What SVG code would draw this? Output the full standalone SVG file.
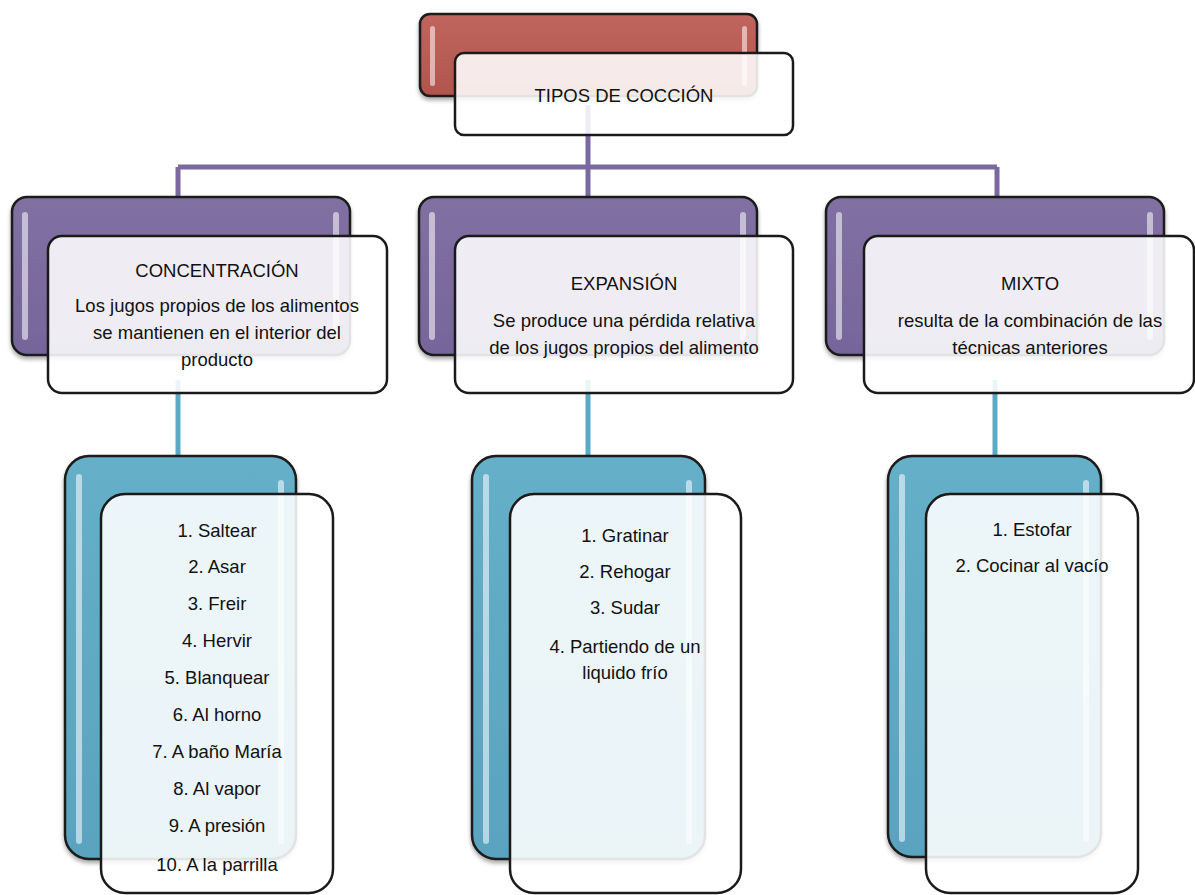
<svg xmlns="http://www.w3.org/2000/svg" width="1195" height="895" viewBox="0 0 1195 895">
<defs>
<linearGradient id="gRed" x1="0" y1="0" x2="0" y2="1"><stop offset="0" stop-color="#c0665e"/><stop offset="1" stop-color="#b0554d"/></linearGradient>
<linearGradient id="gPur" x1="0" y1="0" x2="0" y2="1"><stop offset="0" stop-color="#8170a2"/><stop offset="1" stop-color="#76659a"/></linearGradient>
<linearGradient id="gBlu" x1="0" y1="0" x2="0" y2="1"><stop offset="0" stop-color="#66afc9"/><stop offset="1" stop-color="#5aa3be"/></linearGradient>
<filter id="sh" x="-10%" y="-10%" width="120%" height="130%"><feGaussianBlur in="SourceAlpha" stdDeviation="2"/><feOffset dx="0" dy="3"/><feComponentTransfer><feFuncA type="linear" slope="0.35"/></feComponentTransfer><feMerge><feMergeNode/><feMergeNode in="SourceGraphic"/></feMerge></filter>
</defs>
<style>
.back{stroke:#1a1a1a;stroke-width:2.5;filter:url(#sh)}
.front{fill:#ffffff;fill-opacity:0.88;stroke:#1a1a1a;stroke-width:2.5}
.hl{fill:#ffffff;opacity:0.55}
.t{font-family:"Liberation Sans",Arial,sans-serif;font-size:18.5px;fill:#111111;text-anchor:middle}
.conn{fill:none;stroke-width:5}
</style>
<rect width="1195" height="895" fill="#ffffff"/>
<g id="connectors">
<path class="conn" stroke="#7a68a0" d="M588 105 V200 M178 167 H997 M178 167 V200 M997 167 V200"/>
<path class="conn" stroke="#5aa9c6" d="M178 380 V460 M588 380 V460 M995 380 V460"/>
</g>
<g id="root">
<rect class="back" x="420" y="14" width="337" height="82" rx="10" fill="url(#gRed)"/>
<rect class="hl" x="430" y="26" width="5" height="60" rx="2.5"/>
<rect class="hl" x="742" y="26" width="5" height="60" rx="2.5"/>
<rect class="front" x="455" y="53" width="338" height="82" rx="9"/>
<text class="t" x="624" y="102">TIPOS DE COCCIÓN</text>
</g>
<g id="concentracion">
<rect class="back" x="12" y="197" width="338" height="158" rx="15" fill="url(#gPur)"/>
<rect class="hl" x="22" y="212" width="6" height="128" rx="3"/>
<rect class="hl" x="333" y="212" width="6" height="128" rx="3"/>
<rect class="front" x="48" y="236" width="339" height="157" rx="14"/>
<text class="t" x="217" y="277">CONCENTRACIÓN</text>
<text class="t" x="217" y="312">Los jugos propios de los alimentos</text>
<text class="t" x="217" y="339">se mantienen en el interior del</text>
<text class="t" x="217" y="366">producto</text>
</g>
<g id="expansion">
<rect class="back" x="419" y="197" width="338" height="158" rx="15" fill="url(#gPur)"/>
<rect class="hl" x="429" y="212" width="6" height="128" rx="3"/>
<rect class="hl" x="740" y="212" width="6" height="128" rx="3"/>
<rect class="front" x="455" y="236" width="338" height="157" rx="14"/>
<text class="t" x="624" y="290">EXPANSIÓN</text>
<text class="t" x="624" y="327">Se produce una pérdida relativa</text>
<text class="t" x="624" y="354">de los jugos propios del alimento</text>
</g>
<g id="mixto">
<rect class="back" x="826" y="197" width="338" height="158" rx="15" fill="url(#gPur)"/>
<rect class="hl" x="836" y="212" width="6" height="128" rx="3"/>
<rect class="hl" x="1147" y="212" width="6" height="128" rx="3"/>
<rect class="front" x="864" y="236" width="330" height="157" rx="14"/>
<text class="t" x="1030" y="290">MIXTO</text>
<text class="t" x="1030" y="327">resulta de la combinación de las</text>
<text class="t" x="1030" y="354">técnicas anteriores</text>
</g>
<g id="lista-concentracion">
<rect class="back" x="65" y="456" width="231" height="403" rx="24" fill="url(#gBlu)"/>
<rect class="hl" x="76" y="474" width="6" height="370" rx="3"/>
<rect class="hl" x="278" y="480" width="6" height="364" rx="3"/>
<rect class="front" x="101" y="494" width="232" height="399" rx="24"/>
<text class="t" x="217" y="537">1. Saltear</text>
<text class="t" x="217" y="573">2. Asar</text>
<text class="t" x="217" y="610">3. Freir</text>
<text class="t" x="217" y="647">4. Hervir</text>
<text class="t" x="217" y="684">5. Blanquear</text>
<text class="t" x="217" y="721">6. Al horno</text>
<text class="t" x="217" y="758">7. A baño María</text>
<text class="t" x="217" y="795">8. Al vapor</text>
<text class="t" x="217" y="832">9. A presión</text>
<text class="t" x="217" y="871">10. A la parrilla</text>
</g>
<g id="lista-expansion">
<rect class="back" x="472" y="456" width="233" height="403" rx="24" fill="url(#gBlu)"/>
<rect class="hl" x="483" y="474" width="6" height="370" rx="3"/>
<rect class="hl" x="686" y="480" width="6" height="364" rx="3"/>
<rect class="front" x="510" y="494" width="231" height="399" rx="24"/>
<text class="t" x="625" y="542">1. Gratinar</text>
<text class="t" x="625" y="578">2. Rehogar</text>
<text class="t" x="625" y="614">3. Sudar</text>
<text class="t" x="625" y="653">4. Partiendo de un</text>
<text class="t" x="625" y="679">liquido frío</text>
</g>
<g id="lista-mixto">
<rect class="back" x="888" y="456" width="213" height="401" rx="24" fill="url(#gBlu)"/>
<rect class="hl" x="899" y="474" width="6" height="368" rx="3"/>
<rect class="hl" x="1083" y="480" width="6" height="362" rx="3"/>
<rect class="front" x="926" y="494" width="212" height="399" rx="24"/>
<text class="t" x="1032" y="536">1. Estofar</text>
<text class="t" x="1032" y="572">2. Cocinar al vacío</text>
</g>
</svg>
